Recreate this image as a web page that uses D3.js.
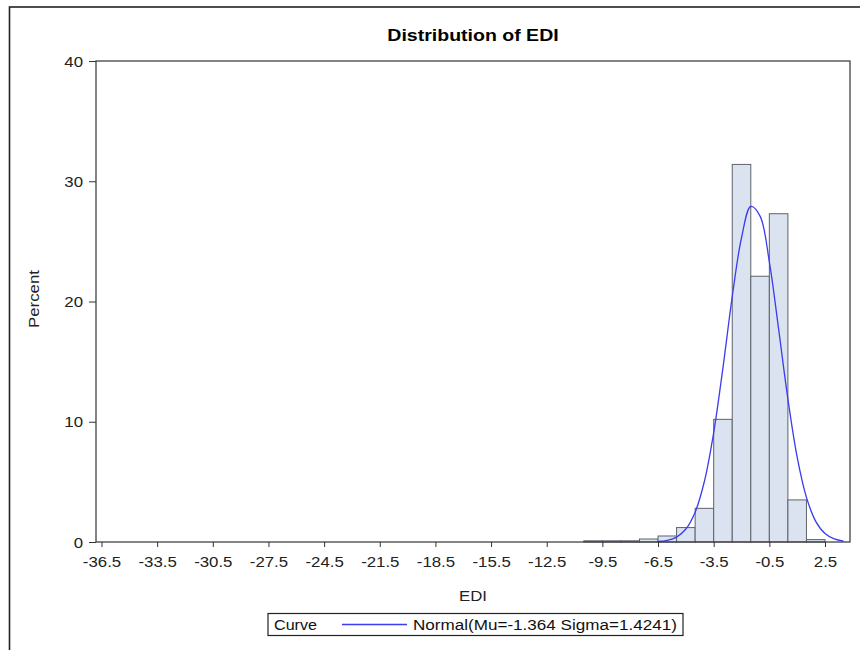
<!DOCTYPE html>
<html>
<head>
<meta charset="utf-8">
<script src="https://cdn.jsdelivr.net/npm/d3@7/dist/d3.min.js"></script>
<style>
  body { margin: 0; background: #fff; }
  svg text { font-family: "Liberation Sans", Arial, sans-serif; }
</style>
</head>
<body>
<div id="chart"></div>
<script>
/* Data */
// histogram bins: edges and percent per bin
var binEdges = [-10.5, -9.5, -8.5, -7.5, -6.5, -5.5, -4.5, -3.5, -2.5, -1.5, -0.5, 0.5, 1.5, 2.5];
var binPercent = [0.1, 0.1, 0.1, 0.25, 0.5, 1.2, 2.8, 10.2, 31.4, 22.1, 27.3, 3.5, 0.2];

// fitted normal curve
var curveX = [-6.5, -6, -5.5, -5, -4.5, -4, -3.5, -3, -2.5, -2, -1.5, -1, -0.5, 0, 0.5, 1, 1.5, 2, 2.5, 3, 3.5];
var curveY = [0.04, 0.14, 0.41, 1.08, 2.48, 5.05, 9.1, 14.5, 20.4, 25.3, 27.9, 27.1, 23.3, 17.7, 11.9, 7.06, 3.71, 1.72, 0.71, 0.26, 0.08];

var xTicks = [-36.5, -33.5, -30.5, -27.5, -24.5, -21.5, -18.5, -15.5, -12.5, -9.5, -6.5, -3.5, -0.5, 2.5];
var yTicks = [0, 10, 20, 30, 40];

var title = "Distribution of EDI";
var xLabel = "EDI";
var yLabel = "Percent";
var legendTitle = "Curve";
var legendEntry = "Normal(Mu=-1.364 Sigma=1.4241)";

/* Layout */
var width = 860, height = 650;
var plot = {left: 96, top: 61, right: 850, bottom: 542};
var stretch = 1.2; // the reference text is wider than plain Arial

var svg = d3.select('#chart')
    .append('svg')
    .attr('width', width)
    .attr('height', height);

/*
 * widen a text selection horizontally, keeping the glyph height
 */
function widen(sel, k){
    sel.each(function(){
        var w = this.getComputedTextLength();
        d3.select(this)
            .attr('textLength', w * k)
            .attr('lengthAdjust', 'spacingAndGlyphs');
    });
}

// outer border (runs off the right and bottom edges)
svg.append('rect')
    .attr('x', 9.5)
    .attr('y', 7)
    .attr('width', 900)
    .attr('height', 700)
    .attr('fill', 'none')
    .attr('stroke', '#222')
    .attr('stroke-width', 1.6);

// x scale: ticks at -36.5 -> 101.5, 2.5 -> 825
var xScale = d3.scaleLinear()
    .domain([-36.5, 2.5])
    .range([101.5, 825]);
var yScale = d3.scaleLinear()
    .domain([0, 40])
    .range([plot.bottom, plot.top]);

// bars
var bins = binPercent.map(function(p, i){
    return {x0: binEdges[i], x1: binEdges[i+1], pct: p};
});

svg.append('g')
    .selectAll('rect')
    .data(bins)
    .enter()
    .append('rect')
    .attr('x', function(d){ return xScale(d.x0); })
    .attr('y', function(d){ return yScale(d.pct); })
    .attr('width', function(d){ return xScale(d.x1) - xScale(d.x0); })
    .attr('height', function(d){ return yScale(0) - yScale(d.pct); })
    .attr('fill', '#dae3ef')
    .attr('stroke', '#5f6368')
    .attr('stroke-width', 1);

// normal curve
var curvePts = curveX.map(function(v, i){ return [v, curveY[i]]; });
var line = d3.line()
    .x(function(d){ return xScale(d[0]); })
    .y(function(d){ return yScale(d[1]); })
    .curve(d3.curveCatmullRom);

svg.append('path')
    .datum(curvePts)
    .attr('d', line)
    .attr('fill', 'none')
    .attr('stroke', '#3b3bf0')
    .attr('stroke-width', 1.3);

// frame
svg.append('rect')
    .attr('x', plot.left)
    .attr('y', plot.top)
    .attr('width', plot.right - plot.left)
    .attr('height', plot.bottom - plot.top)
    .attr('fill', 'none')
    .attr('stroke', '#333')
    .attr('stroke-width', 1.2);

// axes
var xAxis = d3.axisBottom(xScale)
    .tickValues(xTicks)
    .tickSize(5)
    .tickSizeOuter(0)
    .tickFormat(d3.format('.1f'));
var gx = svg.append('g')
    .attr('transform', 'translate(0,' + plot.bottom + ')')
    .call(xAxis);
gx.select('.domain').remove();
gx.selectAll('line').attr('stroke', '#333');
gx.selectAll('text')
    .text(function(d){ return d3.format('.1f')(d).replace('\u2212', '-'); })
    .attr('y', 25)
    .attr('dy', 0)
    .attr('fill', '#222')
    .style('font-size', '14px')
    .call(widen, stretch);

var yAxis = d3.axisLeft(yScale)
    .tickValues(yTicks)
    .tickSize(7)
    .tickSizeOuter(0);
var gy = svg.append('g')
    .attr('transform', 'translate(' + plot.left + ',0)')
    .call(yAxis);
gy.select('.domain').remove();
gy.selectAll('line').attr('stroke', '#333');
gy.selectAll('text')
    .attr('x', -13)
    .attr('dy', '0.36em')
    .attr('fill', '#222')
    .style('font-size', '14px')
    .call(widen, stretch);

// title and axis labels
svg.append('text')
    .attr('x', 473)
    .attr('y', 41)
    .attr('text-anchor', 'middle')
    .style('font-size', '16px')
    .style('font-weight', 'bold')
    .attr('fill', '#000')
    .text(title)
    .call(widen, 1.22);

svg.append('text')
    .attr('x', 473)
    .attr('y', 601)
    .attr('text-anchor', 'middle')
    .style('font-size', '14px')
    .attr('fill', '#222')
    .text(xLabel)
    .call(widen, stretch);

svg.append('text')
    .attr('transform', 'translate(39,299) rotate(-90)')
    .attr('text-anchor', 'middle')
    .style('font-size', '14px')
    .attr('fill', '#222')
    .text(yLabel)
    .call(widen, stretch);

// legend
var legend = svg.append('g');
legend.append('rect')
    .attr('x', 268)
    .attr('y', 613.5)
    .attr('width', 415)
    .attr('height', 22)
    .attr('fill', '#fff')
    .attr('stroke', '#222')
    .attr('stroke-width', 1.2);
legend.append('text')
    .attr('x', 274)
    .attr('y', 630)
    .style('font-size', '14px')
    .attr('fill', '#111')
    .text(legendTitle)
    .call(widen, 1.15);
legend.append('line')
    .attr('x1', 342)
    .attr('x2', 407)
    .attr('y1', 624.5)
    .attr('y2', 624.5)
    .attr('stroke', '#3b3bf0')
    .attr('stroke-width', 1.3);
legend.append('text')
    .attr('x', 413)
    .attr('y', 630)
    .style('font-size', '14px')
    .attr('fill', '#111')
    .text(legendEntry)
    .call(widen, 1.22);
</script>
</body>
</html>
